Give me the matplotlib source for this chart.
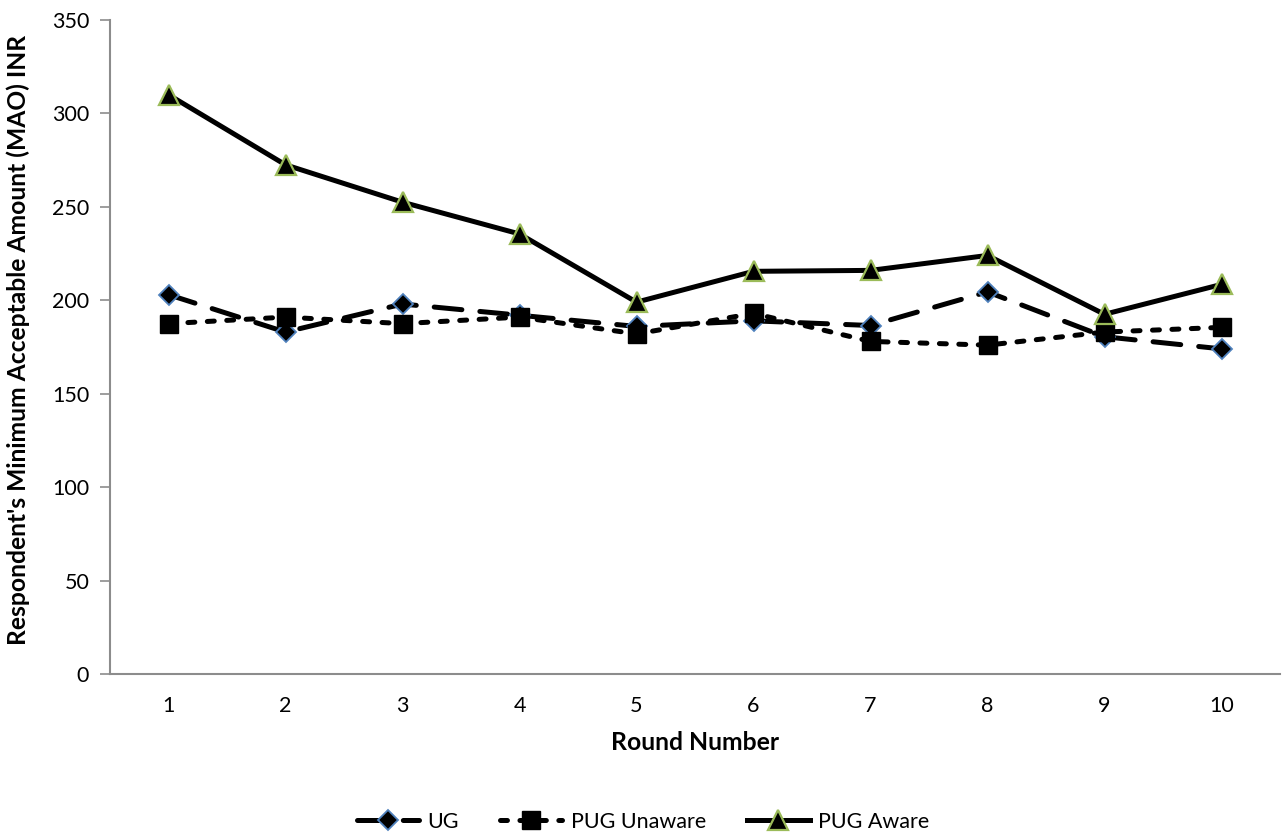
import matplotlib
matplotlib.use("Agg")
import matplotlib.pyplot as plt

plt.rcParams['font.family'] = ['Lato', 'DejaVu Sans']
plt.rcParams['lines.scale_dashes'] = False

rounds = [1, 2, 3, 4, 5, 6, 7, 8, 9, 10]
ug = [203, 183, 198, 192, 186, 189, 186.5, 204.5, 180.5, 174]
pug_unaware = [187.5, 191, 187.5, 191, 182, 193, 178, 176, 183, 185.5]
pug_aware = [310, 272.5, 252.5, 235.5, 199, 215.5, 216, 224, 192.5, 208.5]

FS = 15.5

fig = plt.figure(figsize=(12.86, 8.4), dpi=100)
ax = fig.add_axes([110/1286, 1 - 674/840, 1170/1286, 654/840])

lw = 3.6
ax.plot(rounds, ug, color='black', lw=lw, dashes=(20, 13), dash_capstyle='round',
        marker='D', markersize=10.5, markerfacecolor='black', markeredgecolor='#4F81BD',
        markeredgewidth=1.3, label='UG', zorder=3)
ax.plot(rounds, pug_unaware, color='black', lw=lw, dashes=(5, 9), dash_capstyle='round',
        marker='s', markersize=13, markerfacecolor='black', markeredgecolor='black',
        label='PUG Unaware', zorder=4)
ax.plot(rounds, pug_aware, color='black', lw=lw, linestyle='-',
        marker='^', markersize=15, markerfacecolor='black', markeredgecolor='#9BBB59',
        markeredgewidth=1.6, label='PUG Aware', zorder=5)

ax.set_xlim(0.5, 10.5)
ax.set_ylim(0, 350)
ax.set_yticks(range(0, 351, 50))
ax.set_xticks(rounds)
ax.tick_params(axis='y', direction='out', length=7, width=1.2, color='#8c8c8c',
               labelsize=FS, pad=8)
ax.tick_params(axis='x', length=0, labelsize=FS, pad=16)
for s in ['top', 'right']:
    ax.spines[s].set_visible(False)
for s in ['left', 'bottom']:
    ax.spines[s].set_color('#8c8c8c')
    ax.spines[s].set_linewidth(1.5)

ax.set_xlabel('Round Number', fontsize=17.8, fontweight='bold', labelpad=11)
ax.set_ylabel("Respondent's Minimum Acceptable Amount (MAO) INR", fontsize=17.7,
              fontweight='bold')
ax.yaxis.set_label_coords((30 - 110) / 1170, (674 - 340) / 654)

handles, labels = ax.get_legend_handles_labels()
fig.legend(handles, labels, loc='center', bbox_to_anchor=(0.5, 1 - 822/840),
           ncol=3, frameon=False, fontsize=FS, handlelength=2.9,
           columnspacing=1.9, handletextpad=0.4)

fig.savefig('out.png', dpi=100)
